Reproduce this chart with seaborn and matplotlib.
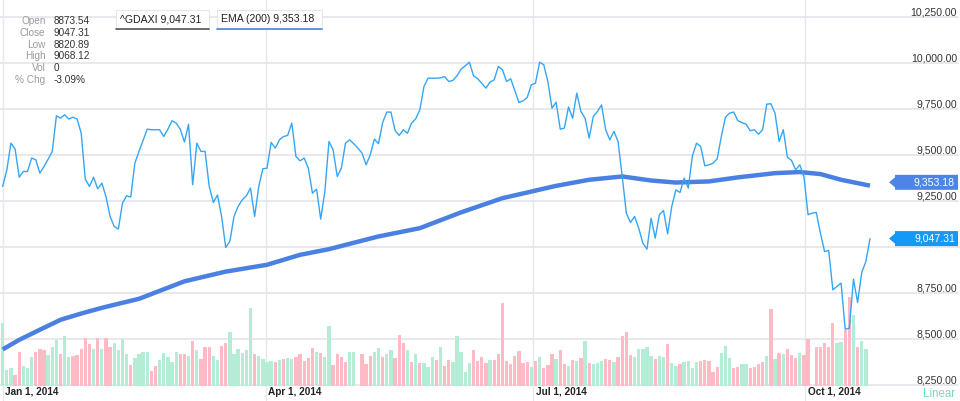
import matplotlib
matplotlib.use("Agg")
import matplotlib.pyplot as plt
import seaborn as sns
import numpy as np
import pandas as pd
from matplotlib.patches import Polygon, Rectangle
from matplotlib.lines import Line2D
import matplotlib.transforms as mtransforms

# ---------------- data ----------------
close = [
    9331, 9421, 9566, 9534, 9381, 9412, 9412, 9485, 9476, 9403,
    9439, 9479, 9521, 9715, 9702, 9720, 9697, 9707, 9698, 9621,
    9370, 9331, 9381, 9318, 9349, 9276, 9168, 9113, 9099, 9240,
    9280, 9273, 9457, 9521, 9581, 9642, 9639, 9639, 9639, 9602,
    9642, 9688, 9675, 9642, 9572, 9669, 9340, 9566, 9521, 9521,
    9331, 9244, 9284, 9168, 8999, 9032, 9168, 9222, 9258, 9280,
    9322, 9168, 9331, 9427, 9430, 9570, 9539, 9584, 9602, 9608,
    9675, 9494, 9470, 9485, 9430, 9294, 9316, 9153, 9303, 9575,
    9530, 9385, 9430, 9566, 9584, 9563, 9539, 9512, 9448, 9503,
    9588, 9563, 9678, 9735, 9735, 9635, 9608, 9639, 9620, 9675,
    9698, 9747, 9874, 9919, 9919, 9919, 9921, 9928, 9901, 9907,
    9932, 9968, 9986, 10006, 9932, 9916, 9892, 9865, 9898, 9910,
    9983, 9965, 9901, 9916, 9852, 9787, 9796, 9814, 9883, 9892,
    10006, 9992, 9901, 9756, 9789, 9642, 9648, 9762, 9702, 9838,
    9738, 9702, 9593, 9711, 9738, 9774, 9639, 9584, 9630, 9575,
    9385, 9186, 9135, 9168, 9104, 9023, 8990, 9158, 9050, 9177,
    9200, 9073, 9222, 9312, 9298, 9376, 9322, 9497, 9566, 9548,
    9443, 9448, 9457, 9481, 9602, 9707, 9729, 9735, 9688, 9678,
    9669, 9633, 9639, 9615, 9639, 9778, 9780, 9729, 9575, 9639,
    9490, 9472, 9421, 9448, 9385, 9177, 9186, 9189, 9077, 8977,
    8983, 8769, 8787, 8805, 8555, 8560, 8827, 8700, 8863, 8923,
    9047.31,
]

ema_day = [0, 4, 9, 14, 19, 24, 28, 33, 44, 54, 64, 72, 79, 91, 101, 111, 121,
           128, 134, 142, 150, 157, 163, 171, 178, 187, 193, 198, 203, 210]
ema_value = [8445, 8497, 8552, 8606, 8640, 8671, 8693, 8720, 8815, 8868, 8905,
             8959, 8990, 9059, 9104, 9190, 9267, 9303, 9334, 9367, 9385, 9363,
             9352, 9358, 9380, 9403, 9409, 9398, 9367, 9335]

volume_m = [
    62.7, 16, 17.7, 11, 33.7, 20.3, 18.3, 29, 33.7, 37,
    35.7, 31, 39.3, 46, 32, 50, 28.7, 30, 31, 37,
    48, 42.3, 37, 48, 37, 48, 39.3, 43.3, 35.7, 46.7,
    32.3, 20.7, 27.7, 31.7, 34.3, 33.7, 15, 20.3, 26, 32.7,
    29, 23.7, 33.7, 32, 32, 30.3, 45, 36, 26.7, 39,
    39, 30.3, 26, 40.3, 42.7, 54.3, 31.7, 37, 32.7, 36,
    77.7, 31.7, 29.7, 27, 23.7, 25, 24.3, 26, 26.7, 27.7,
    27.3, 29, 31.7, 25, 28.3, 37.7, 33.7, 32.7, 28.7, 60.3,
    21, 32.3, 29, 24.3, 33.7, 33.7, 0, 32.3, 21.7, 30,
    34.3, 38.3, 29.3, 32.3, 36, 27.7, 51, 42.7, 36, 24.3,
    31.7, 22.7, 22.7, 18.7, 29.3, 26, 38.7, 20.3, 26, 23.7,
    50, 34.3, 14.3, 23, 36, 24.7, 29, 22.7, 26, 26,
    32, 82.7, 24.7, 21.7, 30.3, 35.3, 22.7, 24.3, 19.3, 25.3,
    29, 18.3, 21, 31.7, 27, 36, 22, 19.7, 26, 25,
    28.3, 45, 23, 22.3, 23.3, 25.3, 26.7, 26, 23.7, 29.3,
    50.3, 54.3, 31.3, 29.3, 37, 37, 38.7, 30, 27, 30,
    29.3, 42, 22.7, 20, 22, 24.3, 25, 18.3, 24, 25,
    26, 25, 14.3, 18.7, 33.3, 40, 27.7, 17.7, 19.3, 22,
    22, 17.7, 19.3, 22, 24.3, 30, 76.7, 26.7, 32.7, 31.7,
    36.7, 30.7, 28.3, 33.3, 30.7, 46.7, 0, 38.7, 39.3, 42.7,
    38.7, 63.3, 43.3, 44, 56, 89.3, 71, 38.7, 45, 36.7,
]
up_day = [
    1, 1, 1, 0, 0, 1, 1, 1, 0, 0,
    0, 1, 1, 1, 0, 1, 1, 0, 0, 0,
    0, 0, 1, 0, 1, 0, 0, 1, 1, 1,
    1, 0, 1, 1, 1, 1, 0, 0, 1, 1,
    1, 1, 1, 0, 0, 1, 0, 1, 0, 0,
    0, 1, 1, 0, 0, 1, 1, 1, 1, 1,
    1, 0, 1, 1, 1, 1, 0, 1, 0, 1,
    1, 0, 0, 0, 0, 0, 1, 0, 1, 1,
    0, 0, 0, 0, 1, 1, 1, 0, 0, 0,
    1, 1, 0, 1, 1, 0, 0, 0, 1, 0,
    1, 0, 1, 1, 1, 0, 1, 0, 0, 1,
    1, 1, 1, 1, 0, 0, 0, 0, 1, 0,
    0, 0, 0, 0, 0, 0, 0, 0, 1, 0,
    1, 0, 0, 0, 1, 0, 0, 1, 0, 1,
    0, 1, 0, 1, 1, 1, 0, 0, 1, 0,
    0, 0, 0, 1, 1, 1, 1, 1, 0, 1,
    1, 0, 1, 1, 0, 1, 1, 1, 1, 0,
    0, 0, 0, 0, 1, 1, 1, 0, 0, 1,
    1, 0, 0, 0, 0, 1, 0, 1, 0, 1,
    0, 0, 0, 1, 0, 0, 0, 0, 0, 0,
    0, 0, 1, 1, 0, 0, 1, 0, 1, 1,
]

tick_day = [0, 63.7, 128.5, 194.3]
tick_label = ["Jan 1, 2014", "Apr 1, 2014", "Jul 1, 2014", "Oct 1, 2014"]
price_ticks = [8250, 8500, 8750, 9000, 9250, 9500, 9750, 10000, 10250]
# the 9,000.00 label is hidden behind the last-close tag in the reference
price_labels_shown = [8250, 8500, 8750, 9250, 9500, 9750, 10000, 10250]
info_names = ["Open", "Close", "Low", "High", "Vol", "% Chg"]
info_values = ["8873.54", "9047.31", "8820.89", "9068.12", "0", "-3.09%"]
last_close = 9047.31
last_ema = 9353.18
legend_main = "^GDAXI 9,047.31"
legend_ema = "EMA (200) 9,353.18"

# ---------------- styling ----------------
sns.set_theme(style="white")
plt.rcParams['font.family'] = ['Liberation Sans', 'DejaVu Sans']

W, H = 960, 401
PX = 4.13          # pixels per trading day
X0 = 2.7           # pixel of day 0
XL = (-X0 / PX, (W - X0) / PX)
YL = (8164.7, 10344.0)

C_LINE = '#35a6f5'
C_EMA = '#4a80e2'
C_UP = '#b4ecd6'
C_DN = '#ffbac5'
C_GRID = '#e7e7ec'

fig = plt.figure(figsize=(9.6, 4.01), dpi=100)
fig.patch.set_facecolor('white')
ax_g = fig.add_axes([0, 0, 1, 1])
ax_v = fig.add_axes([0, 0, 1, 1])
ax_p = fig.add_axes([0, 0, 1, 1])
for a in (ax_g, ax_v, ax_p):
    a.set_axis_off()
    a.set_xlim(*XL)
ax_g.set_ylim(*YL)
ax_p.set_ylim(*YL)
ax_v.set_ylim(-15, 386)


def fx(px):
    return px / W


def fy(py):
    return 1 - py / H


# grid
for p in price_ticks:
    ax_g.axhline(p, xmin=0, xmax=958 / W, color=C_GRID, lw=1.3, zorder=0)
for t in tick_day:
    ax_g.axvline(t, color=C_GRID, lw=1.0, zorder=0)

# volume bars
vdays = np.arange(len(volume_m))
vol_df = pd.DataFrame({"day": vdays, "volume": volume_m,
                       "dir": ["up" if u else "down" for u in up_day]})
ax_v.bar(vol_df["day"], vol_df["volume"], width=0.8,
         color=[C_UP if d == "up" else C_DN for d in vol_df["dir"]],
         linewidth=0)

# price + EMA
price_df = pd.DataFrame({"day": np.arange(len(close)), "close": close})
ema_df = pd.DataFrame({"day": ema_day, "ema": ema_value})
sns.lineplot(data=ema_df, x="day", y="ema", ax=ax_p, color=C_EMA, lw=3.2,
             solid_capstyle='butt', solid_joinstyle='round', zorder=3)
sns.lineplot(data=price_df, x="day", y="close", ax=ax_p, color=C_LINE, lw=1.0,
             zorder=4)
ax_p.set_xlim(*XL)
ax_p.set_ylim(*YL)
ax_p.set_axis_off()

# right axis labels
blend = mtransforms.blended_transform_factory(ax_g.transAxes, ax_g.transData)
for p in price_labels_shown:
    ax_g.text(957 / W, p, f"{p:,.2f}", transform=blend, ha='right', va='bottom',
              fontsize=7.6, color='#333333')

# x tick labels
for t, lab in zip(tick_day, tick_label):
    tr = mtransforms.offset_copy(
        mtransforms.blended_transform_factory(ax_g.transData, fig.transFigure),
        fig=fig, x=2.5, y=0, units='dots')
    ax_g.text(t, fy(392), lab, transform=tr, ha='left', va='center',
              fontsize=7.2, fontweight='bold', color='#222222')

# value tags on the right


def tag(value, color):
    yc = H - (value - YL[0]) / (YL[1] - YL[0]) * H
    pts = [(889, yc), (895, yc - 5), (895, yc - 7.5), (958, yc - 7.5),
           (958, yc + 7.5), (895, yc + 7.5), (895, yc + 5)]
    poly = Polygon([(fx(x), fy(y)) for x, y in pts], closed=True,
                   transform=fig.transFigure, facecolor=color, edgecolor='none',
                   zorder=10)
    fig.patches.append(poly)
    fig.text(fx(955), fy(yc), f"{value:,.2f}", ha='right', va='center',
             fontsize=7.6, color='white', zorder=11)


tag(last_ema, '#4d84e6')
tag(last_close, '#1599f6')

# legend boxes


def legend_box(x1, x2, text, under):
    rect = Rectangle((fx(x1), fy(29)), fx(x2) - fx(x1), fy(10) - fy(29),
                     transform=fig.transFigure, facecolor='white',
                     edgecolor='#e2e2e2', lw=0.6, zorder=10)
    fig.patches.append(rect)
    fig.lines.append(Line2D([fx(x1), fx(x2)], [fy(29), fy(29)],
                            transform=fig.transFigure, color=under, lw=1.2,
                            zorder=11))
    fig.text(fx((x1 + x2) / 2 - 2), fy(19.3), text, ha='center', va='center',
             fontsize=7.6, color='#222222', zorder=12)


legend_box(116, 209, legend_main, '#555555')
legend_box(217, 322, legend_ema, C_EMA)

# info panel
for i, (n, v) in enumerate(zip(info_names, info_values)):
    yy = 20.7 + i * 11.9
    fig.text(fx(45.5), fy(yy), n, ha='right', va='center', fontsize=7.2,
             color='#9a9a9a')
    fig.text(fx(54), fy(yy), v, ha='left', va='center', fontsize=7.2,
             color='#333333')

# scale mode label
fig.text(fx(955), fy(394), "Linear", ha='right', va='center', fontsize=8.3,
         color='#74d9bb')

fig.savefig("out.png", dpi=100, facecolor='white')
